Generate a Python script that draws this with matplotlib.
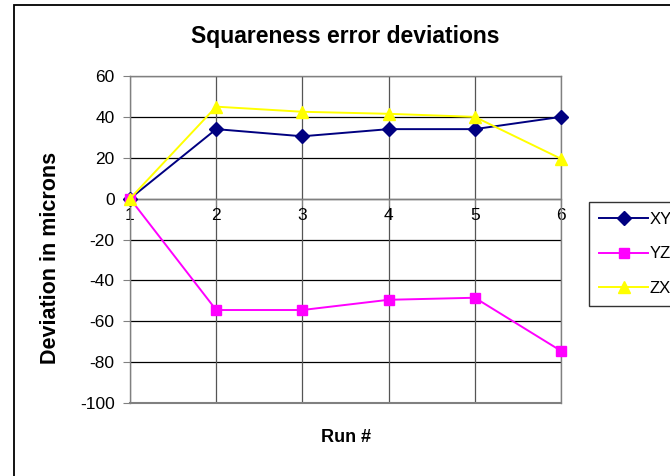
import matplotlib
matplotlib.use("Agg")
import matplotlib.pyplot as plt
from matplotlib.patches import Rectangle

# -----------------------------
# Data
# -----------------------------
runs = [1, 2, 3, 4, 5, 6]
xy_dev = [0, 34, 30.5, 34, 34, 40]
yz_dev = [0, -54.5, -54.5, -49.5, -48.5, -74.5]
zx_dev = [0, 45, 42.5, 41.5, 40, 19.5]
y_ticks = [60, 40, 20, 0, -20, -40, -60, -80, -100]

plt.rcParams["font.family"] = ["Liberation Sans", "DejaVu Sans"]
plt.rcParams["axes.unicode_minus"] = False

fig = plt.figure(figsize=(6.7, 4.76), dpi=100)
ax = fig.add_axes([130 / 670, 1 - 403 / 476, (561 - 130) / 670, (403 - 76) / 476])

# outer chart frame (runs off the right / bottom edge)
fig.add_artist(Rectangle((14 / 670, -0.1), 2.0, 1.1 - 5 / 476,
                         transform=fig.transFigure, fill=False,
                         edgecolor="black", linewidth=1.3))

# grid
for v in y_ticks:
    ax.axhline(v, color="black", linewidth=0.9, zorder=1)
for r in runs:
    ax.axvline(r, color="#555555", linewidth=0.9, zorder=1)

ax.plot(runs, xy_dev, color="#000080", marker="D", markersize=7, linewidth=1.4,
        label="XY", zorder=3, clip_on=False)
ax.plot(runs, yz_dev, color="#FF00FF", marker="s", markersize=7, linewidth=1.4,
        label="YZ", zorder=3, clip_on=False)
ax.plot(runs, zx_dev, color="#FFFF00", marker="^", markersize=9, linewidth=1.4,
        label="ZX", zorder=4, clip_on=False)

ax.set_xlim(1, 6)
ax.set_ylim(-100, 60)
ax.set_yticks(y_ticks)
ax.set_xticks(runs)

# category axis crosses at 0
ax.spines["bottom"].set_position(("data", 0))
for s in ["bottom", "top", "left", "right"]:
    ax.spines[s].set_color("#808080")
    ax.spines[s].set_linewidth(1.0)
ax.axhline(-100, color="#808080", linewidth=1.5, zorder=2, clip_on=False)

ax.tick_params(axis="y", direction="out", length=5, labelsize=12.5, color="#808080", pad=6)
ax.tick_params(axis="x", direction="out", length=5, labelsize=12.5, color="#808080", pad=2)

ax.set_title("Squareness error deviations", fontsize=16.5, fontweight="bold", pad=24)
ax.set_ylabel("Deviation in microns", fontsize=15.5, fontweight="bold")
ax.yaxis.set_label_coords((61 - 130) / 431, 1 - (258 - 76) / 327)
fig.text(346 / 670, 1 - 438 / 476, "Run #", fontsize=13, fontweight="bold",
         ha="center", va="center")

leg = fig.legend(loc="upper left", bbox_to_anchor=(589 / 670, 1 - 202 / 476),
                 bbox_transform=fig.transFigure, fontsize=12, frameon=True,
                 fancybox=False, handlelength=2.9, labelspacing=1.15,
                 borderpad=0.62, handletextpad=0.1, borderaxespad=0)
leg.get_frame().set_edgecolor("black")
leg.get_frame().set_linewidth(1.0)

fig.savefig("out.png", dpi=100)
